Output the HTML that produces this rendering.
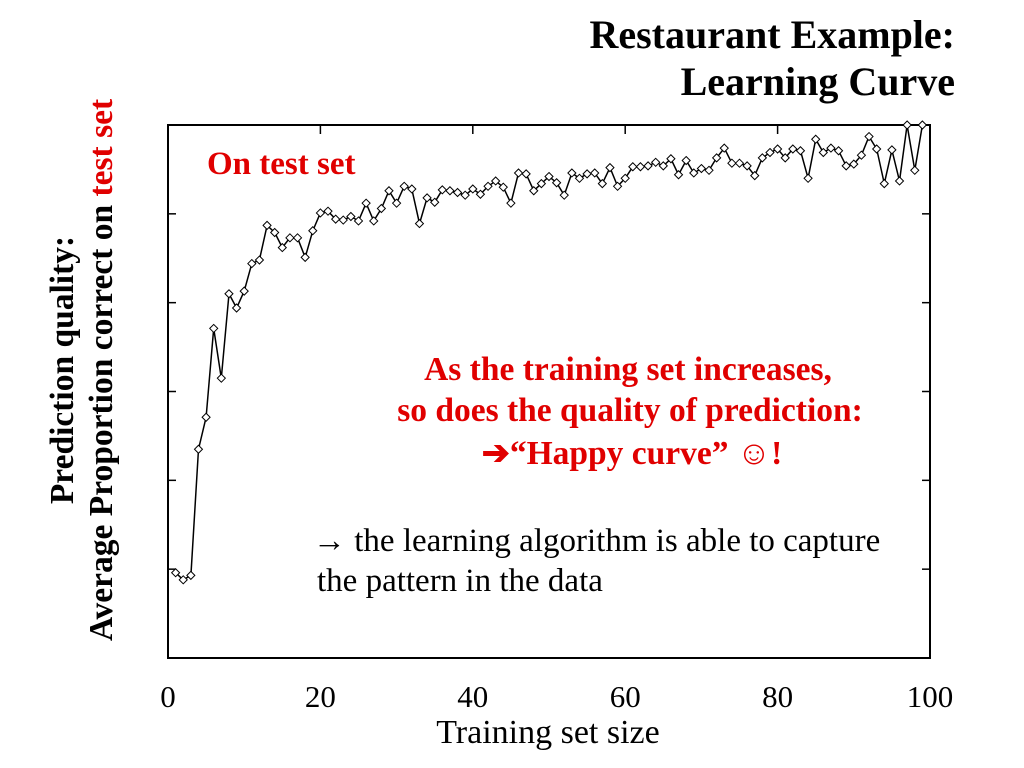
<!DOCTYPE html>
<html><head><meta charset="utf-8"><style>
body{margin:0;background:#fff;}
svg{display:block;}
.serif{font-family:"Liberation Serif",serif;}
</style></head><body>
<svg id="chart" width="1024" height="768" viewBox="0 0 1024 768" xmlns="http://www.w3.org/2000/svg">
<g class="serif" font-weight="bold" font-size="40" text-anchor="end">
<text x="955" y="48">Restaurant Example:</text>
<text x="955" y="95">Learning Curve</text>
</g>
<g class="serif" font-weight="bold" font-size="33.5" text-anchor="middle">
<text transform="translate(73,370) rotate(-90)">Prediction quality:</text>
<text transform="translate(112,370) rotate(-90)">Average Proportion correct on <tspan fill="#e00000">test set</tspan></text>
</g>
<rect x="168" y="125" width="762" height="533" fill="none" stroke="#000" stroke-width="2"/>
<g id="ticks"></g>
<g id="xlabels" class="serif" font-size="31" text-anchor="middle"></g>
<text x="548" y="743" class="serif" font-size="34" text-anchor="middle">Training set size</text>
<g id="series"></g>
<text x="207" y="174" class="serif" font-weight="bold" font-size="33" fill="#e00000">On test set</text>
<g class="serif" font-weight="bold" font-size="33.5" fill="#e00000" text-anchor="middle">
<text x="628" y="380">As the training set increases,</text>
<text x="630" y="421">so does the quality of prediction:</text>
<text x="632" y="464">➔“Happy curve” ☺!</text>
</g>
<g class="serif" font-size="33" fill="#000">
<text x="313" y="551">→ the learning algorithm is able to capture</text>
<text x="317" y="591">the pattern in the data</text>
</g>
</svg>
<script>
const xTicks = [0, 20, 40, 60, 80, 100];
const yTicks = [0.4, 0.5, 0.6, 0.7, 0.8, 0.9, 1.0];
const accuracy = [.496,.488,.493,.635,.671,.771,.715,.810,.794,.813,
.844,.848,.887,.879,.862,.873,.873,.851,.881,.901,
.903,.894,.893,.897,.892,.912,.892,.906,.926,.912,
.931,.928,.889,.918,.913,.927,.926,.924,.921,.928,
.922,.931,.937,.930,.912,.946,.945,.926,.934,.942,
.935,.921,.946,.940,.945,.946,.934,.952,.931,.940,
.953,.953,.954,.958,.954,.962,.944,.960,.946,.951,
.949,.963,.974,.957,.957,.954,.943,.963,.969,.973,
.963,.973,.971,.940,.984,.969,.974,.971,.954,.956,
.966,.987,.973,.934,.972,.937,1.0,.949,1.0];
const NS = "http://www.w3.org/2000/svg";
const X0=168, X1=930, Y0=658, Y1=125;
const xs = v => X0 + (v-0)/(100-0)*(X1-X0);
const ys = v => Y0 - (v-0.4)/(1.0-0.4)*(Y0-Y1);
const tg = document.getElementById('ticks');
xTicks.forEach(t=>{
  if(t===0||t===100) return;
  const l=document.createElementNS(NS,'line');
  l.setAttribute('x1',xs(t));l.setAttribute('x2',xs(t));l.setAttribute('y1',Y1);l.setAttribute('y2',Y1+9);
  l.setAttribute('stroke','#000');l.setAttribute('stroke-width','1.5');
  
  
  tg.appendChild(l);
});
yTicks.forEach(t=>{
  if(t===0.4||t===1.0) return;
  [[X0,X0+8],[X1-8,X1]].forEach(p=>{
    const l=document.createElementNS(NS,'line');
    l.setAttribute('x1',p[0]);l.setAttribute('x2',p[1]);l.setAttribute('y1',ys(t));l.setAttribute('y2',ys(t));
    l.setAttribute('stroke','#000');l.setAttribute('stroke-width','1.5');
    
    
    tg.appendChild(l);
  });
});
const xl=document.getElementById('xlabels');
xTicks.forEach(t=>{
  const tx=document.createElementNS(NS,'text');
  tx.setAttribute('x',xs(t));tx.setAttribute('y',707);
  tx.textContent=t;
  
  
  xl.appendChild(tx);
});
const sg=document.getElementById('series');
const pts=accuracy.map((v,i)=>[xs(i+1),ys(v)]);
const pl=document.createElementNS(NS,'polyline');
pl.setAttribute('points',pts.map(p=>p[0].toFixed(1)+','+p[1].toFixed(1)).join(' '));
pl.setAttribute('fill','none');pl.setAttribute('stroke','#000');pl.setAttribute('stroke-width','1.5');


sg.appendChild(pl);
pts.forEach(p=>{
  const d=document.createElementNS(NS,'polygon');
  const x=p[0],y=p[1],r=4;
  d.setAttribute('points',`${x},${y-r} ${x+r},${y} ${x},${y+r} ${x-r},${y}`);
  d.setAttribute('fill','#fff');d.setAttribute('stroke','#000');d.setAttribute('stroke-width','1');
  
  
  sg.appendChild(d);
});
</script>
</body></html>
